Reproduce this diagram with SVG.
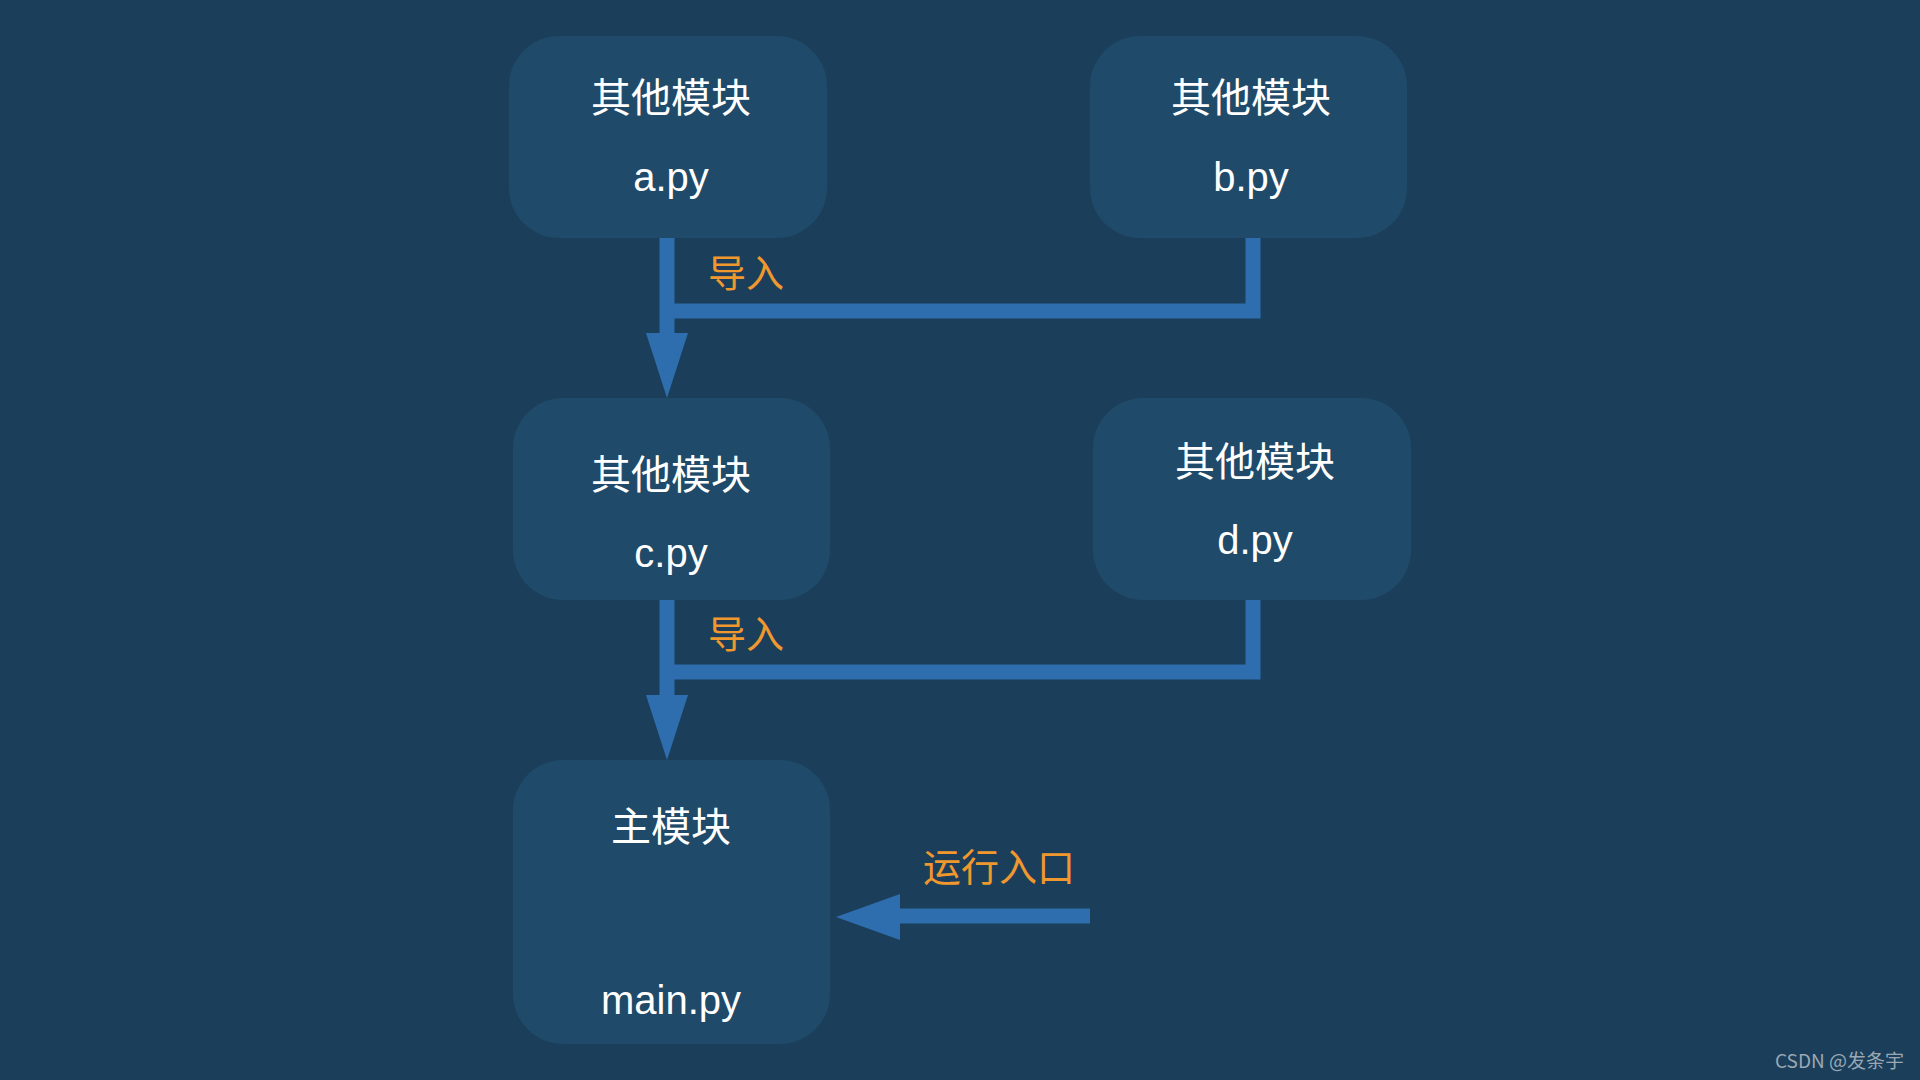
<svg xmlns="http://www.w3.org/2000/svg" width="1920" height="1080" viewBox="0 0 1920 1080">
<style>
.box{fill:#1f4a69}
.t{font-family:"Liberation Sans","Noto Sans CJK SC",sans-serif;font-size:40px;fill:#ffffff;text-anchor:middle}
.o{font-family:"Noto Sans CJK SC",sans-serif;font-size:38px;fill:#f0982e}
.ln{stroke:#2e6eae;stroke-width:15;fill:none}
.ah{fill:#2e6eae}
</style>
<rect width="1920" height="1080" fill="#1b3f5a"/>
<g id="a"><rect class="box" x="509" y="36" width="318" height="202" rx="50"/><text class="t" x="671" y="112">其他模块</text><text class="t" x="671" y="191">a.py</text></g>
<g id="b"><rect class="box" x="1090" y="36" width="317" height="202" rx="50"/><text class="t" x="1251" y="112">其他模块</text><text class="t" x="1251" y="191">b.py</text></g>
<g id="c"><rect class="box" x="513" y="398" width="317" height="202" rx="50"/><text class="t" x="671" y="489">其他模块</text><text class="t" x="671" y="567">c.py</text></g>
<g id="d"><rect class="box" x="1093" y="398" width="318" height="202" rx="50"/><text class="t" x="1255" y="476">其他模块</text><text class="t" x="1255" y="554">d.py</text></g>
<g id="main"><rect class="box" x="513" y="760" width="317" height="284" rx="50"/><text class="t" x="671" y="841">主模块</text><text class="t" x="671" y="1014">main.py</text></g>
<g id="connectors">
<path class="ln" d="M667 238V340M667 311H1253V238"/>
<polygon class="ah" points="646,333 688,333 667,398"/>
<path class="ln" d="M667 600V702M667 672H1253V600"/>
<polygon class="ah" points="646,695 688,695 667,760"/>
<path class="ln" d="M1090 916H895"/>
<polygon class="ah" points="900,894 900,940 836,917"/>
<text class="o" x="708" y="287">导入</text>
<text class="o" x="708" y="648">导入</text>
<text class="o" x="923" y="881">运行入口</text>
</g>
<text x="1904" y="1068" text-anchor="end" style="font-family:'Noto Sans CJK SC',sans-serif;font-size:19px;fill:#9aa8b4">CSDN @发条宇</text>
</svg>
